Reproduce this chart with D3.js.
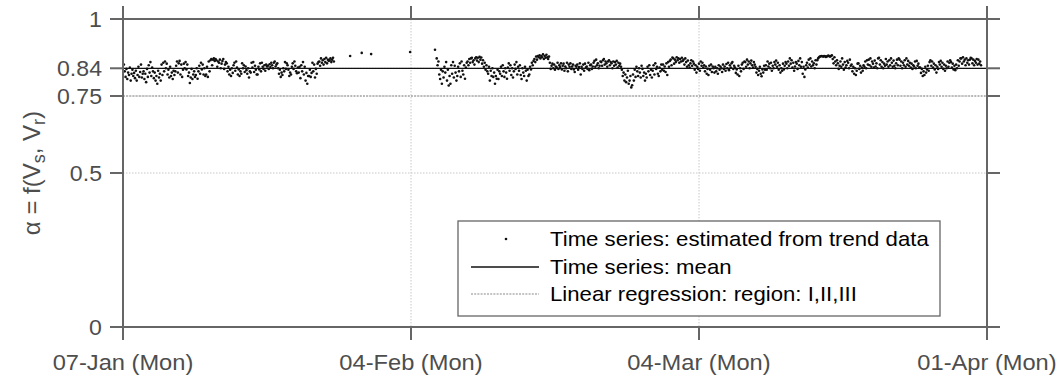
<!DOCTYPE html>
<html>
<head>
<meta charset="utf-8">
<script src="https://cdn.jsdelivr.net/npm/d3@7/dist/d3.min.js"></script>
<style>
  html, body { margin: 0; padding: 0; background: #fff; }
  svg { display: block; font-family: "Liberation Sans", Arial, sans-serif; }
</style>
</head>
<body>
<svg id="chart" width="1062" height="379"></svg>
<script>
// ---- data -----------------------------------------------------------------
const xDomain = ["2019-01-07", "2019-04-01"];
const xTickDates = ["2019-01-07", "2019-02-04", "2019-03-04", "2019-04-01"];
const yTickValues = [0, 0.5, 0.75, 0.84, 1];
const yTickLabels = ["0", "0.5", "0.75", "0.84", "1"];
const gridY = [0.5, 0.75, 0.84];

const meanValue = 0.84;          // time series mean
const regressionValue = 0.75;    // linear regression, regions I, II, III

const stepHours = 2;             // sampling step of the trend-data estimates

// first block of 2-hourly estimates, starting 07-Jan 02:00 (one row per day)
const blockAStart = "2019-01-07T02:00:00Z";
const blockA = [
  .852,.83,.812,.838,.805,.826,.818,.842,.80,.822,.835,.815,
  .825,.808,.832,.80,.818,.845,.812,.828,.852,.81,.822,.83,
  .805,.822,.795,.838,.812,.85,.826,.86,.815,.842,.83,.808,
  .826,.80,.815,.79,.832,.81,.822,.80,.852,.818,.858,.83,
  .862,.84,.855,.82,.835,.81,.845,.815,.826,.805,.832,.818,
  .83,.848,.862,.826,.856,.864,.82,.852,.812,.835,.855,.84,
  .86,.836,.852,.815,.826,.792,.81,.838,.805,.82,.83,.812,
  .818,.84,.806,.83,.848,.822,.858,.836,.852,.82,.84,.815,
  .82,.845,.812,.862,.83,.866,.87,.85,.868,.872,.864,.87,
  .866,.845,.862,.858,.868,.84,.855,.864,.87,.838,.852,.86,
  .856,.83,.845,.82,.835,.815,.84,.825,.85,.858,.832,.862,
  .842,.82,.836,.815,.83,.822,.856,.84,.85,.828,.846,.834,
  .822,.84,.81,.83,.826,.858,.842,.86,.828,.848,.835,.82,
  .82,.845,.836,.856,.83,.858,.845,.838,.85,.832,.852,.846,
  .848,.838,.853,.844,.858,.85,.84,.858,.862,.846,.852,.856,
  .84,.822,.835,.812,.826,.818,.84,.83,.86,.838,.856,.85,
  .835,.815,.826,.82,.845,.856,.838,.862,.848,.83,.824,.842,
  .826,.845,.808,.85,.83,.86,.82,.845,.80,.825,.79,.815,
  .815,.835,.812,.825,.858,.83,.852,.81,.838,.822,.855,.86,
  .862,.848,.872,.858,.866,.852,.87,.86,.874,.856,.868,.864,
  .866,.872,.86,.868,.874,.862
];

// isolated estimates during the sparse period
const sparseTimes = [
  "2019-01-29T02:00:00Z", "2019-01-30T05:00:00Z", "2019-01-31T03:00:00Z",
  "2019-02-03T22:00:00Z", "2019-02-06T08:00:00Z"
];
const sparseValues = [0.88, 0.89, 0.886, 0.893, 0.90];

// second block of 2-hourly estimates, starting 06-Feb 12:00 (one row per day)
const blockBStart = "2019-02-06T12:00:00Z";
const blockB = [
  .872,.85,.862,.82,.805,.835,.79,.83,.81,.845,.826,.86,
  .80,.835,.784,.815,.79,.85,.822,.86,.81,.848,.826,.80,
  .815,.845,.83,.856,.812,.862,.832,.82,.85,.806,.842,.858,
  .862,.85,.87,.858,.872,.874,.86,.866,.852,.872,.876,.865,
  .874,.86,.877,.868,.875,.855,.866,.845,.858,.835,.85,.83,
  .822,.845,.80,.832,.815,.84,.812,.826,.79,.815,.806,.835,
  .805,.83,.822,.845,.815,.85,.83,.812,.84,.826,.806,.842,
  .856,.832,.85,.818,.84,.81,.83,.852,.838,.86,.82,.845,
  .832,.85,.818,.805,.84,.826,.815,.845,.832,.80,.835,.815,
  .82,.845,.836,.858,.85,.864,.87,.86,.878,.868,.88,.876,
  .882,.872,.88,.876,.885,.87,.88,.874,.884,.876,.87,.878,
  .858,.838,.848,.855,.84,.852,.835,.846,.842,.858,.838,.85,
  .844,.856,.836,.848,.855,.832,.846,.84,.858,.83,.852,.845,
  .856,.838,.846,.852,.836,.828,.848,.845,.852,.835,.844,.856,
  .82,.845,.838,.852,.832,.855,.842,.846,.838,.858,.834,.85,
  .852,.838,.846,.858,.864,.845,.868,.85,.856,.84,.848,.862,
  .86,.848,.866,.87,.852,.862,.856,.845,.862,.866,.85,.86,
  .856,.84,.862,.848,.86,.852,.864,.842,.858,.848,.855,.845,
  .835,.815,.826,.80,.82,.795,.81,.832,.79,.80,.815,.778,
  .785,.82,.80,.835,.812,.845,.83,.815,.84,.826,.81,.848,
  .838,.815,.826,.80,.822,.81,.845,.83,.85,.818,.835,.81,
  .832,.85,.82,.856,.838,.845,.822,.815,.842,.83,.852,.835,
  .852,.832,.846,.828,.856,.818,.86,.845,.864,.868,.85,.875,
  .872,.855,.868,.86,.876,.866,.872,.858,.87,.862,.874,.864,
  .868,.852,.872,.86,.845,.865,.85,.842,.856,.866,.848,.862,
  .855,.835,.85,.826,.845,.838,.855,.832,.862,.848,.858,.842,
  .85,.83,.846,.822,.838,.818,.848,.835,.852,.828,.846,.84,
  .826,.845,.83,.84,.822,.85,.835,.846,.84,.828,.852,.838,
  .846,.832,.854,.84,.858,.834,.85,.842,.856,.86,.838,.848,
  .842,.825,.836,.82,.848,.815,.84,.83,.852,.858,.838,.862,
  .86,.845,.868,.852,.862,.84,.856,.865,.85,.842,.86,.852,
  .845,.826,.838,.818,.832,.845,.822,.814,.836,.826,.848,.835,
  .85,.835,.862,.846,.855,.84,.858,.832,.848,.84,.86,.852,
  .865,.845,.858,.835,.85,.826,.84,.832,.855,.836,.848,.86,
  .855,.84,.862,.848,.872,.855,.866,.842,.858,.832,.846,.86,
  .855,.838,.864,.85,.872,.845,.86,.822,.845,.812,.836,.85,
  .858,.842,.868,.852,.872,.846,.862,.85,.856,.84,.866,.852,
  .866,.872,.876,.878,.879,.88,.879,.878,.88,.879,.877,.878,
  .88,.881,.879,.878,.88,.882,.87,.856,.876,.862,.85,.866,
  .856,.838,.848,.862,.845,.872,.852,.835,.86,.842,.85,.864,
  .858,.84,.868,.848,.852,.83,.845,.822,.84,.818,.832,.855,
  .856,.838,.848,.826,.842,.832,.85,.845,.862,.84,.866,.852,
  .868,.85,.872,.845,.862,.855,.842,.865,.846,.856,.84,.872,
  .874,.852,.866,.845,.86,.84,.855,.848,.87,.852,.862,.845,
  .866,.85,.872,.858,.845,.865,.848,.84,.856,.868,.85,.872,
  .868,.848,.862,.84,.858,.85,.866,.845,.872,.852,.864,.848,
  .858,.842,.855,.838,.85,.846,.862,.84,.864,.848,.855,.842,
  .842,.825,.838,.815,.83,.818,.845,.826,.836,.848,.832,.86,
  .866,.848,.862,.842,.855,.836,.85,.826,.845,.838,.86,.852,
  .864,.845,.858,.838,.852,.832,.848,.84,.862,.845,.858,.866,
  .86,.842,.855,.836,.848,.834,.852,.84,.866,.848,.862,.872,
  .872,.855,.876,.862,.868,.85,.872,.858,.866,.852,.868,.874,
  .872,.856,.868,.85,.864,.858,.87,.852,.868,.855,.862,.85
];

const legendLabels = [
  "Time series: estimated from trend data",
  "Time series: mean",
  "Linear regression: region: I,II,III"
];

// ---- build points ---------------------------------------------------------
const HOUR = 3600 * 1000;
function block(start, values) {
  const t0 = new Date(start).getTime();
  return values.map((v, i) => ({ t: new Date(t0 + i * stepHours * HOUR), v }));
}
const points = [
  ...block(blockAStart, blockA),
  ...sparseTimes.map((t, i) => ({ t: new Date(t), v: sparseValues[i] })),
  ...block(blockBStart, blockB)
];

// ---- layout ---------------------------------------------------------------
const svg = d3.select("#chart");
const plot = { left: 123, right: 987, top: 19, bottom: 327 };
const tickLen = 13;
const axisColor = "#666";
const labelColor = "#4d4d4d";

// widen glyphs slightly so label widths follow the original typeface
function widen(sel, k) {
  sel.each(function () {
    const w = this.getComputedTextLength();
    d3.select(this).attr("textLength", w * k).attr("lengthAdjust", "spacingAndGlyphs");
  });
}

const x = d3.scaleUtc()
  .domain(xDomain.map(d => new Date(d + "T00:00:00Z")))
  .range([plot.left, plot.right]);
const y = d3.scaleLinear().domain([0, 1]).range([plot.bottom, plot.top]);
const fmt = d3.utcFormat("%d-%b (%a)");
const xTicks = xTickDates.map(d => new Date(d + "T00:00:00Z"));

// grid
const grid = svg.append("g").attr("stroke", "#c8c8c8").attr("stroke-width", 1)
  .attr("stroke-dasharray", "1.5,1.5");
grid.selectAll("line.gx").data(xTicks.slice(1, -1)).join("line").attr("class", "gx")
  .attr("x1", d => x(d)).attr("x2", d => x(d)).attr("y1", plot.top).attr("y2", plot.bottom);
grid.selectAll("line.gy").data(gridY).join("line").attr("class", "gy")
  .attr("x1", plot.left).attr("x2", plot.right).attr("y1", d => y(d)).attr("y2", d => y(d));

// regression line
svg.append("line")
  .attr("x1", plot.left).attr("x2", plot.right)
  .attr("y1", y(regressionValue)).attr("y2", y(regressionValue))
  .attr("stroke", "#8a8a8a").attr("stroke-width", 1.2).attr("stroke-dasharray", "2,1.2");

// mean line
svg.append("line")
  .attr("x1", plot.left).attr("x2", plot.right)
  .attr("y1", y(meanValue)).attr("y2", y(meanValue))
  .attr("stroke", "#111").attr("stroke-width", 1.3);

// points
svg.append("g").selectAll("circle").data(points).join("circle")
  .attr("cx", d => x(d.t)).attr("cy", d => y(d.v)).attr("r", 1.3)
  .attr("fill", "#111");

// box + outward ticks on all four sides
const ax = svg.append("g").attr("stroke", axisColor).attr("stroke-width", 2).attr("fill", "none");
ax.append("rect").attr("x", plot.left).attr("y", plot.top)
  .attr("width", plot.right - plot.left).attr("height", plot.bottom - plot.top);
ax.selectAll("line.tb").data(xTicks).join("line").attr("class", "tb")
  .attr("x1", d => x(d)).attr("x2", d => x(d)).attr("y1", plot.bottom).attr("y2", plot.bottom + tickLen);
ax.selectAll("line.tt").data(xTicks).join("line").attr("class", "tt")
  .attr("x1", d => x(d)).attr("x2", d => x(d)).attr("y1", plot.top).attr("y2", plot.top - tickLen);
ax.selectAll("line.tl").data(yTickValues).join("line").attr("class", "tl")
  .attr("x1", plot.left - tickLen).attr("x2", plot.left).attr("y1", d => y(d)).attr("y2", d => y(d));
ax.selectAll("line.tr").data(yTickValues).join("line").attr("class", "tr")
  .attr("x1", plot.right).attr("x2", plot.right + tickLen).attr("y1", d => y(d)).attr("y2", d => y(d));

// tick labels
svg.append("g").selectAll("text").data(xTicks).join("text")
  .attr("x", d => x(d)).attr("y", 370)
  .attr("text-anchor", "middle").attr("font-size", 22).attr("fill", labelColor)
  .text(d => fmt(d))
  .call(widen, 1.075);
svg.append("g").selectAll("text").data(yTickValues).join("text")
  .attr("x", plot.left - tickLen - 8).attr("y", d => y(d)).attr("dy", "0.35em")
  .attr("text-anchor", "end").attr("font-size", 22).attr("fill", labelColor)
  .text((d, i) => yTickLabels[i])
  .call(widen, 1.05);

// y-axis title: α = f(V_s, V_r)
const yt = svg.append("text")
  .attr("transform", `translate(40,${(plot.top + plot.bottom) / 2}) rotate(-90)`)
  .attr("text-anchor", "middle").attr("font-size", 24).attr("fill", labelColor);
yt.append("tspan").text("\u03b1 = f(V");
yt.append("tspan").attr("font-size", 18).attr("dy", 5).text("s");
yt.append("tspan").attr("dy", -5).text(", V");
yt.append("tspan").attr("font-size", 18).attr("dy", 5).text("r");
yt.append("tspan").attr("dy", -5).text(")");

// legend
const lg = svg.append("g");
lg.append("rect").attr("x", 458).attr("y", 221).attr("width", 482).attr("height", 95)
  .attr("fill", "#fff").attr("stroke", "#666").attr("stroke-width", 1.3);
const rowY = [239, 267, 294];
lg.append("circle").attr("cx", 506).attr("cy", rowY[0]).attr("r", 1.3).attr("fill", "#111");
lg.append("line").attr("x1", 471).attr("x2", 539).attr("y1", rowY[1]).attr("y2", rowY[1])
  .attr("stroke", "#111").attr("stroke-width", 1.3);
lg.append("line").attr("x1", 471).attr("x2", 539).attr("y1", rowY[2]).attr("y2", rowY[2])
  .attr("stroke", "#8a8a8a").attr("stroke-width", 1.2).attr("stroke-dasharray", "2,1.2");
lg.selectAll("text").data(legendLabels).join("text")
  .attr("x", 550).attr("y", (d, i) => rowY[i]).attr("dy", "0.35em")
  .attr("font-size", 21).attr("fill", "#000").text(d => d)
  .call(widen, 1.056);
</script>
</body>
</html>
